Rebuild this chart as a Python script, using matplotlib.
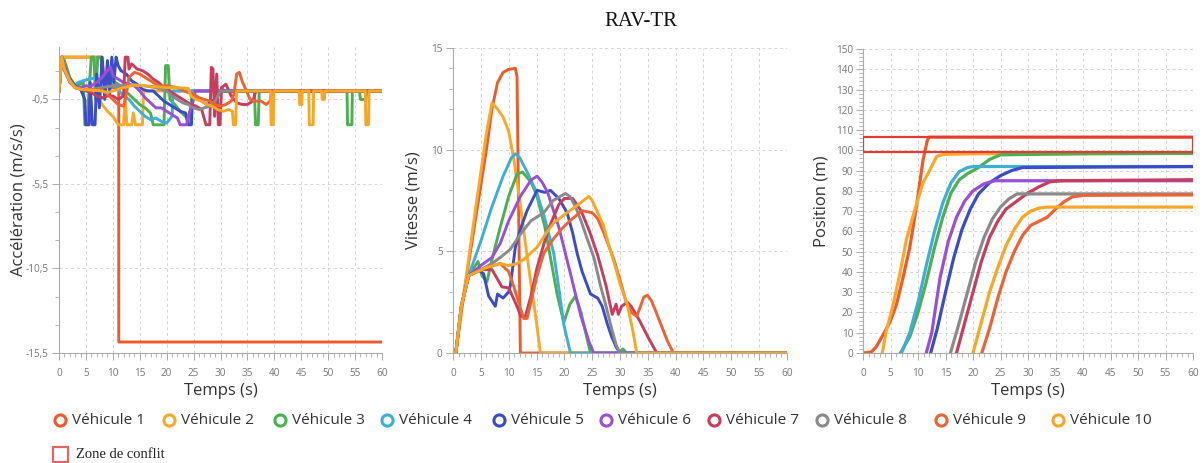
import matplotlib
matplotlib.use("Agg")
import matplotlib.pyplot as plt
from matplotlib.lines import Line2D
from matplotlib.patches import Rectangle
from matplotlib.ticker import MultipleLocator, FixedLocator

# ---------------- DATA ----------------
labels = ["Véhicule 1", "Véhicule 2", "Véhicule 3", "Véhicule 4", "Véhicule 5",
          "Véhicule 6", "Véhicule 7", "Véhicule 8", "Véhicule 9", "Véhicule 10"]
colors = ["#EE5A2A", "#F9A92A", "#4CAF50", "#3DAED6", "#3A4CC8",
          "#9B4FD8", "#C73D5E", "#8A8A8A", "#EE6234", "#F7A723"]

# Acceleration (m/s/s)
acc_t1 = [0, 0.5, 8, 8.5, 10, 11.1, 11.1, 60]
acc_a1 = [0, 2, 2, 0.3, 0.2, 0.2, -14.85, -14.85]
acc_t2 = [0, 0.5, 6.7, 7, 8, 9, 10, 11, 12, 12.3, 12.6, 13.5, 13.8, 14.2, 15.5, 15.7, 60]
acc_a2 = [0, 2, 2, -0.2, -0.8, -1.2, -1.5, -2, -2, -0.3, -2, -2, -1.3, -2, -2, 0, 0]
acc_t3 = [0, 0.5, 1, 2, 3, 4, 4.5, 4.8, 5.3, 5.5, 6, 6.5, 6.8, 7.2, 7.8, 8.2, 9, 10, 11, 12, 13, 14, 15, 16, 17,
          17.5, 19.5, 19.8, 20.3, 20.6, 21.5, 22.5, 23.5, 24.3, 24.7, 30, 30.3, 30.6, 36.3, 36.5, 37, 37.2,
          53.5, 53.6, 54.4, 54.5, 55.8, 56, 57, 57.2, 60]
acc_a3 = [0, 2, 1.8, 0.8, 0.3, 0.4, 0.6, -2, -2, -0.3, 2, 2, -0.5, 2, 2, 0.5, 0.8, 0.6, 0.4, 0.1, -0.2, -0.5, -0.8, -1.0, -1.3,
          -2, -2, 1.5, 1.5, -0.5, -0.8, -1.2, -1.5, -2, 0, 0, 0.2, 0, 0, -2, -2, 0,
          0, -2, -2, 0, 0, -0.5, -0.5, 0, 0]
acc_t4 = [0, 0.5, 1, 2, 2.8, 3.5, 4.5, 5.5, 6.5, 7.5, 8.5, 9.5, 10.5, 11.2, 12, 13, 14, 15, 16, 17, 18, 19, 20, 21, 21.2, 60]
acc_a4 = [0, 2, 1.5, 0.7, 0.3, 0.5, 0.6, 0.7, 0.75, 0.7, 0.6, 0.5, 0.3, 0, -0.3, -0.5, -0.9, -1.2, -1.5, -1.7, -1.6, -1.8, -1.9, -1.5, 0, 0]
acc_t5 = [0, 0.5, 1, 2, 3, 4, 4.8, 5, 5.6, 5.8, 6.2, 6.7, 7, 7.5, 8, 8.5, 9, 9.4, 9.8, 10.2, 10.6, 11, 11.5, 12.5, 13.5,
          14.5, 15.5, 16.5, 17.5, 18.5, 19.5, 20.5, 21.5, 22.5, 23.5, 24, 24.6, 24.8, 25.5, 26.5, 27.5, 28.5, 29.5, 30, 60]
acc_a5 = [0, 2, 1.4, 0.7, 0.3, 0.1, -0.5, -2, -2, 0.5, -2, -2, 1, -1, 2, -0.5, 1.8, -0.3, 2, 0.5, 2, 1.5, 1.2, 1.0, 0.6,
          0.4, 0.1, 0, 0, -0.3, -0.6, -0.8, -1.0, -1.2, -1.3, -2, -2, -0.5, -0.3, -0.6, -0.8, -0.6, -0.3, 0, 0]
acc_t6 = [0, 0.5, 1, 2, 3, 4, 5, 6, 7, 8, 9, 9.6, 10, 11, 12, 13, 14, 15, 16, 17, 18, 19, 20, 21, 22, 22.5, 23.7, 24, 25, 25.3, 60]
acc_a6 = [0, 2, 1.5, 0.6, 0.2, 0.2, 0.3, 0.3, 0.5, 0.8, 1.2, 1.4, 0.9, 0.7, 0.5, 0.4, 0.3, 0, -0.4, -0.7, -1.0, -1.0, -1.2, -1.4, -1.6, -2, -2, -1.5, -0.5, 0, 0]
acc_t7 = [0, 0.5, 1, 2, 3, 4, 5, 6, 7, 8, 9, 10, 11, 12, 12.3, 12.8, 13, 13.5, 14.5, 15.5, 16.5, 17.5, 18.5, 19.5, 20.5,
          21.5, 22.5, 23.5, 24.5, 25.5, 26.5, 27.3, 28, 28.3, 28.6, 28.9, 29.3, 29.6, 29.9, 30.2, 31, 32, 33, 34, 35, 36, 36.6, 60]
acc_a7 = [0, 2, 1.4, 0.6, 0.2, 0.1, 0, -0.1, -0.3, -0.4, -0.3, -0.3, -0.5, -0.3, 2, 2, 1.3, 1.6, 1.3, 1.2, 1.0, 0.7, 0.5, 0.2, 0,
          -0.2, -0.4, -0.6, -0.8, -0.9, -1.1, -2, -2, 1.4, 1.3, -1.5, 1.0, -2, -2, 0.2, 0.4, -0.3, -0.7, -0.8, -0.8, -0.6, 0, 0]
acc_t8 = [0, 0.5, 1, 2, 3, 4, 6, 8, 10, 12, 14, 16, 18, 19, 20, 21, 22, 23, 24, 25, 26, 27, 28, 29, 30, 60]
acc_a8 = [0, 2, 1.2, 0.5, 0.2, 0.1, 0.1, 0.2, 0.3, 0.35, 0.35, 0.3, 0.2, 0.1, 0, -0.3, -0.5, -0.7, -0.8, -1.0, -1.1, -1.0, -0.9, -0.6, 0, 0]
acc_t9 = [0, 0.5, 1, 2, 3, 4, 6, 8, 9, 10, 11, 12, 12.5, 13, 14, 15, 16, 17, 18, 19, 20, 21, 22, 23, 24, 25, 26, 27, 28, 29, 30,
          31, 32, 32.5, 33, 33.5, 34, 34.8, 35.5, 36.5, 37.5, 38.5, 39.2, 39.6, 60]
acc_a9 = [0, 2, 1.3, 0.6, 0.2, 0.1, 0.1, 0.05, -0.2, -0.5, -0.8, -0.9, -0.2, 0.8, 1.1, 1.0, 0.8, 0.6, 0.4, 0.3, 0.3, 0.25, 0.2, 0.05, -0.1, -0.2, -0.4, -0.5, -0.6, -0.8, -0.9,
          -0.8, -0.6, -0.2, 1.0, 1.1, 0.6, 0, -0.5, -0.6, -0.6, -0.8, -0.6, 0, 0]
acc_t10 = [0, 0.5, 1, 2, 3, 4, 6, 8, 9, 10, 12, 14, 16, 18, 20, 22, 24, 24.5, 25.5, 26.5, 27.5, 28.5, 29.5, 30.5, 31.5, 32.2, 32.4, 32.8, 33,
           39.3, 39.4, 39.8, 39.9, 44.6, 44.7, 45.1, 45.2, 46.4, 46.5, 47.2, 47.3, 48.8, 48.9, 49.3, 49.4, 56.9, 57, 57.5, 57.6, 60]
acc_a10 = [0, 2, 1.3, 0.6, 0.2, 0.1, 0.05, 0, -0.1, 0, 0.2, 0.35, 0.3, 0.25, 0.2, 0.2, 0.15, -0.3, -0.5, -0.6, -0.8, -0.9, -1.1, -1.2, -1.1, -1.2, -2, -2, 0,
           0, -2, -2, 0, 0, -0.8, -0.8, 0, 0, -2, -2, 0, 0, -0.5, -0.5, 0, 0, -2, -2, 0, 0]

# Speed (m/s)
spd_t1 = [0, 0.5, 2, 4, 6, 7, 8, 9, 10, 11.2, 11.5, 12.1, 60]
spd_v1 = [0, 0, 3, 6.5, 10, 12, 13.3, 13.8, 13.95, 14, 13.6, 0, 0]
spd_t2 = [0, 0.5, 2, 4, 6, 7, 8, 9, 10, 11, 12, 13, 14, 15, 15.7, 60]
spd_v2 = [0, 0, 3, 7, 10.8, 12.3, 12, 11.6, 10.9, 9.4, 7.5, 5.4, 3.4, 1.5, 0, 0]
spd_t3 = [0, 0.5, 1.5, 2.8, 4.5, 5.2, 6.1, 7, 8.5, 10, 11.5, 12.5, 14, 15, 16.5, 17.5, 18.7, 19.9, 21, 22, 23, 24, 24.7, 29.8, 30.5, 31.2, 60]
spd_v3 = [0, 0, 2.3, 3.8, 4.5, 3.8, 3.5, 4.6, 6.2, 7.7, 8.8, 8.9, 8.4, 7.8, 6.2, 4.7, 2.9, 1.5, 2.4, 2.8, 2.0, 0.8, 0, 0, 0.2, 0, 0]
spd_t4 = [0, 0.5, 1.5, 2.8, 5, 7, 9, 10.5, 11.2, 12, 13.5, 15.1, 16.5, 18.1, 19, 19.9, 21.1, 60]
spd_v4 = [0, 0, 2.3, 3.8, 5.5, 7.2, 8.7, 9.6, 9.8, 9.6, 8.8, 7.85, 6.6, 4.9, 3.2, 1.4, 0, 0]
spd_t5 = [0, 0.5, 1.5, 2.8, 4.5, 5.5, 6.4, 7.6, 8, 9, 10, 10.3, 11.2, 12, 13.3, 15.1, 16.5, 17.5, 19, 20.5, 21.5, 22.3, 23.2,
          24.7, 26, 26.8, 27.7, 28.5, 29.3, 30, 60]
spd_v5 = [0, 0, 2.3, 3.8, 4.1, 3.9, 2.8, 2.3, 2.9, 2.7, 3.0, 3.3, 5.2, 6.0, 7.0, 8.0, 7.9, 8.0, 7.6, 6.9, 5.9, 4.9, 4.0,
          2.9, 2.7, 2.3, 1.45, 0.8, 0.3, 0, 0]
spd_t6 = [0, 0.5, 1.5, 2.8, 5, 7, 8.5, 10, 12.1, 14, 15.1, 16, 17, 19, 21.1, 22, 23, 24.5, 25.3, 60]
spd_v6 = [0, 0, 2.3, 3.8, 4.3, 4.7, 5.4, 6.5, 7.7, 8.5, 8.7, 8.4, 7.9, 6.2, 3.9, 2.9, 1.8, 0.5, 0, 0]
spd_t7 = [0, 0.5, 1.5, 2.8, 5, 7, 8.8, 10, 11.5, 12.2, 13, 14, 15.1, 17, 19, 20, 21.5, 23, 24.5, 26, 27.5, 28.6, 29.3, 29.7,
          30.3, 31.3, 32, 33.5, 35, 36, 36.6, 60]
spd_v7 = [0, 0, 2.3, 3.8, 4.1, 4.1, 3.25, 3.2, 2.3, 1.8, 1.8, 2.8, 4.2, 6.0, 7.3, 7.6, 7.6, 7.0, 6.0, 4.8, 3.3, 1.9, 2.4, 1.9,
          2.3, 2.5, 2.3, 1.6, 0.8, 0.3, 0, 0]
spd_t8 = [0, 0.5, 1.5, 2.8, 5, 7, 8.5, 10.3, 12, 14, 16.3, 18, 20.2, 21, 22, 23, 24, 25.3, 26.5, 27.4, 28.5, 29.3, 30, 60]
spd_v8 = [0, 0, 2.3, 3.8, 4.1, 4.4, 4.7, 5.1, 5.8, 6.5, 6.9, 7.5, 7.85, 7.7, 7.2, 6.5, 5.7, 4.7, 3.3, 2.4, 1.2, 0.4, 0, 0]
spd_t9 = [0, 0.5, 1.5, 2.8, 6, 8.5, 10, 11, 12, 12.7, 13.3, 14, 15, 16.3, 18, 19.5, 21, 23.2, 25, 26, 27.1, 28.9, 30, 31, 32,
          33, 34.3, 34.9, 35.6, 36.5, 37.5, 38.5, 39.6, 60]
spd_v9 = [0, 0, 2.3, 3.8, 4.2, 4.4, 4.0, 3.2, 2.3, 1.7, 1.7, 2.5, 3.7, 4.9, 5.6, 6.1, 6.5, 7.0, 6.9, 6.6, 5.9, 4.6, 3.6, 2.6, 2.0,
          1.8, 2.76, 2.84, 2.6, 2.0, 1.3, 0.6, 0, 0]
spd_t10 = [0, 0.5, 1.5, 2.8, 6, 8.5, 10, 11.5, 12.7, 13.5, 15.1, 16.5, 18.1, 19.5, 21, 22.5, 24.4, 25, 26, 27, 28, 29, 30, 31.3, 32.3, 33, 60]
spd_v10 = [0, 0, 2.3, 3.8, 4.2, 4.4, 4.3, 4.4, 4.6, 4.8, 5.2, 5.8, 6.4, 6.7, 7.0, 7.3, 7.7, 7.5, 6.9, 6.3, 5.3, 4.4, 3.4, 2.4, 1.1, 0, 0]

# Position (m)
pos_t1 = [0, 1.5, 2.4, 3.6, 4.9, 6.1, 7.3, 8.5, 9.7, 10.9, 11.7, 12, 60]
pos_p1 = [0, 0.5, 3, 8.7, 15.3, 24, 37.5, 52, 72, 95, 105, 106.5, 106.5]
pos_t2 = [3.5, 4.25, 5.5, 6.7, 7.9, 9.4, 10.9, 12.1, 13.4, 14.6, 20, 60]
pos_p2 = [0, 11, 24, 39, 56, 70.5, 84, 90, 97, 98, 98.3, 98.5]
pos_t3 = [6.8, 8.5, 10, 11.5, 13, 14.5, 16, 17.5, 19, 21, 23, 25, 40, 60]
pos_p3 = [0, 8, 20, 35, 52, 67, 79, 85.5, 88.5, 91.5, 95.5, 97.8, 98.3, 98.5]
pos_t4 = [7, 8.5, 10, 11.5, 13, 14.5, 16, 17.5, 19, 20, 60]
pos_p4 = [0, 10, 25, 43, 60, 74, 84, 89.5, 91.5, 92, 92]
pos_t5 = [12.3, 13.5, 15, 16.5, 18, 19.5, 21, 23, 25, 27, 29, 45, 60]
pos_p5 = [0, 12, 30, 47, 61, 71, 78.5, 84, 87.5, 90, 91.5, 91.8, 92]
pos_t6 = [11.5, 12.5, 14, 15.5, 17, 18.5, 20, 22, 24, 60]
pos_p6 = [0, 10, 37, 55, 67, 75, 80, 83.5, 85, 85]
pos_t7 = [17, 18.5, 20, 21.5, 23, 24.5, 26, 28, 30, 32, 34, 36, 60]
pos_p7 = [0, 15, 30, 45, 57, 65, 71, 75, 79, 82, 84.5, 85, 85.5]
pos_t8 = [15.9, 17.5, 19, 20.5, 22, 23.5, 25, 26.5, 28, 60]
pos_p8 = [0, 15, 30, 45, 57, 66, 72, 76, 78.5, 78.5]
pos_t9 = [21.6, 23, 24.5, 26, 27.5, 29, 30.5, 32, 33.5, 35, 36.5, 38, 40, 60]
pos_p9 = [0, 12, 27, 40, 50, 58, 63, 65, 67, 71, 74.5, 77, 77.8, 78]
pos_t10 = [20, 21.5, 23, 24.5, 26, 27.5, 29, 30.5, 32, 33.5, 60]
pos_p10 = [0, 15, 30, 42, 53, 61, 67, 70, 71.5, 72, 72]

# Conflict zone (position chart)
zone_t = [0, 60]
zone_p = [99, 106.5]

acc_ticks = [-15.5, -10.5, -5.5, -0.5]
acc_tick_labels = ["-15,5", "-10,5", "-5,5", "-0,5"]

acc_t = [acc_t1, acc_t2, acc_t3, acc_t4, acc_t5, acc_t6, acc_t7, acc_t8, acc_t9, acc_t10]
acc_a = [acc_a1, acc_a2, acc_a3, acc_a4, acc_a5, acc_a6, acc_a7, acc_a8, acc_a9, acc_a10]
spd_t = [spd_t1, spd_t2, spd_t3, spd_t4, spd_t5, spd_t6, spd_t7, spd_t8, spd_t9, spd_t10]
spd_v = [spd_v1, spd_v2, spd_v3, spd_v4, spd_v5, spd_v6, spd_v7, spd_v8, spd_v9, spd_v10]
pos_t = [pos_t1, pos_t2, pos_t3, pos_t4, pos_t5, pos_t6, pos_t7, pos_t8, pos_t9, pos_t10]
pos_p = [pos_p1, pos_p2, pos_p3, pos_p4, pos_p5, pos_p6, pos_p7, pos_p8, pos_p9, pos_p10]

# ---------------- FIGURE ----------------
plt.rcParams['font.family'] = ['Open Sans', 'DejaVu Sans']
W, H = 1204, 463
fig = plt.figure(figsize=(W / 100, H / 100), dpi=100)

def frac(l, t, r, b):
    return [l / W, 1 - b / H, (r - l) / W, (b - t) / H]

ax1 = fig.add_axes(frac(59, 47, 382, 353))
ax2 = fig.add_axes(frac(453, 48, 787, 353))
ax3 = fig.add_axes(frac(863, 49, 1193, 353))

LW = 2.1
for i in range(10):
    ax1.plot(acc_t[i], acc_a[i], color=colors[i], lw=LW, solid_joinstyle='round')
    ax2.plot(spd_t[i], spd_v[i], color=colors[i], lw=LW, solid_joinstyle='round')
    ax3.plot(pos_t[i], pos_p[i], color=colors[i], lw=LW + 0.2, solid_joinstyle='round')

ax3.add_patch(Rectangle((zone_t[0], zone_p[0]), zone_t[1] - zone_t[0], zone_p[1] - zone_p[0],
                        fill=False, edgecolor='#E53935', lw=1.6, zorder=5))

tick_col = '#777777'
for ax in (ax1, ax2, ax3):
    ax.set_xlim(0, 60)
    ax.xaxis.set_major_locator(MultipleLocator(5))
    ax.xaxis.set_minor_locator(MultipleLocator(1))
    for s in ('top', 'right'):
        ax.spines[s].set_visible(False)
    for s in ('left', 'bottom'):
        ax.spines[s].set_color('#aaaaaa')
        ax.spines[s].set_linewidth(0.8)
    ax.tick_params(which='major', length=5, width=0.7, color='#aaaaaa', labelsize=7.2,
                   labelcolor=tick_col)
    ax.tick_params(axis='x', which='major', pad=6)
    ax.tick_params(axis='y', which='major', pad=2.5)
    ax.tick_params(which='minor', length=3, width=0.6, color='#aaaaaa')
    ax.grid(True, which='major', color='#d4d4d4', linestyle=(0, (3, 3)), lw=0.7)
    ax.set_axisbelow(True)
    ax.set_xlabel('Temps (s)', fontsize=12, color='#333333', labelpad=3)
    ax.patch.set_alpha(0)

ax1.set_ylim(-15.5, 2.6)
ax1.yaxis.set_major_locator(FixedLocator(acc_ticks))
ax1.yaxis.set_minor_locator(FixedLocator([-13.83, -12.17, -8.83, -7.17, -3.83, -2.17, 1.17]))
ax1.set_yticklabels(acc_tick_labels)
ax1.set_ylabel('Accélération (m/s/s)', fontsize=12, color='#333333')
ax1.yaxis.set_label_coords((27 - 59) / 323, 0.5)

ax2.set_ylim(0, 15)
ax2.yaxis.set_major_locator(MultipleLocator(5))
ax2.yaxis.set_minor_locator(MultipleLocator(1))
ax2.set_ylabel('Vitesse (m/s)', fontsize=12, color='#333333')
ax2.yaxis.set_label_coords((421 - 453) / 334, 0.5)

ax3.set_ylim(0, 150)
ax3.yaxis.set_major_locator(MultipleLocator(10))
ax3.yaxis.set_minor_locator(MultipleLocator(2))
ax3.set_ylabel('Position (m)', fontsize=12, color='#333333')
ax3.yaxis.set_label_coords((829 - 863) / 330, 0.5)
ax3.tick_params(axis='y', which='major', pad=2)

for ax in (ax1, ax2, ax3):
    for s in ax.get_xticklabels() + ax.get_yticklabels():
        s.set_color(tick_col)

fig.text(641 / W, 1 - 22 / H, 'RAV-TR', ha='center', va='center', fontsize=15,
         family=['Liberation Serif', 'DejaVu Serif'], color='#111111')

# Legend
leg_x = [60, 169, 280, 387, 499, 606, 714, 822, 941, 1058]
leg_y = 1 - 420 / H
for i in range(10):
    fig.add_artist(Line2D([leg_x[i] / W], [leg_y], transform=fig.transFigure, marker='o', ms=8,
                          mfc='none', mec=colors[i], mew=2.2, linestyle=''))
    fig.text((leg_x[i] + 12) / W, leg_y, labels[i], ha='left', va='center', fontsize=11, color='#333333')

fig.add_artist(Rectangle((53 / W, 1 - 462 / H), 15 / W, 15 / H, transform=fig.transFigure,
                         fill=False, edgecolor='#E06666', lw=1.6))
fig.text(76 / W, 1 - 455 / H, 'Zone de conflit', ha='left', va='center', fontsize=10.5,
         family=['Liberation Serif', 'DejaVu Serif'], color='#222222')

fig.savefig('out.png', dpi=100)
